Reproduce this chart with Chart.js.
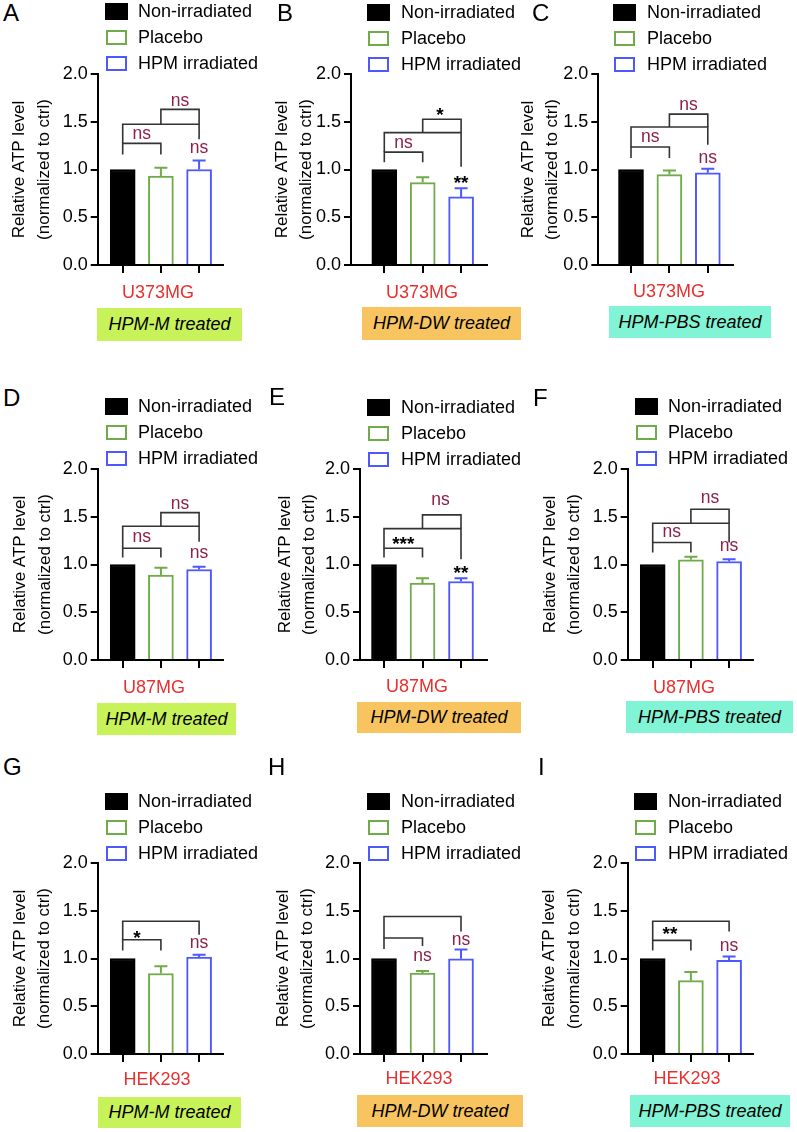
<!DOCTYPE html>
<html>
<head>
<meta charset="utf-8">
<script src="https://cdn.jsdelivr.net/npm/chart.js@4.4.1/dist/chart.umd.min.js"></script>
<style>
  body { margin: 0; background: #fff; font-family: "Liberation Sans", Arial, sans-serif; }
  #fig { position: relative; width: 797px; height: 1132px; overflow: hidden; background: #fff; }
  .abs { position: absolute; white-space: nowrap; color: #000; }
  .box { position: absolute; display: flex; align-items: center; justify-content: center;
         font-style: italic; font-size: 18px; white-space: nowrap; }
</style>
</head>
<body>
<div id="fig"></div>
<script>
// ---- data ----
const groups = ["Non-irradiated", "Placebo", "HPM irradiated"]
const panelIds = ["A", "B", "C", "D", "E", "F", "G", "H", "I"]
const cellLines = ["U373MG", "U373MG", "U373MG", "U87MG", "U87MG", "U87MG", "HEK293", "HEK293", "HEK293"]
const treatments = ["HPM-M treated", "HPM-DW treated", "HPM-PBS treated",
                    "HPM-M treated", "HPM-DW treated", "HPM-PBS treated",
                    "HPM-M treated", "HPM-DW treated", "HPM-PBS treated"]
const yTicks = [0, 0.5, 1, 1.5, 2]
const yTitle = ["Relative ATP level", "(normalized to ctrl)"]

// one value per panel A..I
const ctrlMean    = [1, 1, 1, 1, 1, 1, 1, 1, 1]
const placeboMean = [0.93, 0.863, 0.947, 0.889, 0.805, 1.049, 0.843, 0.848, 0.768]
const placeboErr  = [0.088, 0.056, 0.042, 0.076, 0.052, 0.031, 0.075, 0.021, 0.091]
const hpmMean     = [1.0, 0.713, 0.965, 0.948, 0.822, 1.031, 1.015, 0.997, 0.98]
const hpmErr      = [0.095, 0.09, 0.042, 0.028, 0.035, 0.025, 0.023, 0.096, 0.04]

// brackets: [from, to, height, left leg end, right leg end]
const brackets = [
  [[0, 1, 1.274, 1.158, 1.158], [0, 2, 1.474, 1.274, 1.316], [1, 2, 1.63, 1.474, 1.474]],
  [[0, 1, 1.182, 1.077, 1.077], [0, 2, 1.386, 1.182, 1.028], [1, 2, 1.526, 1.386, 1.386]],
  [[0, 1, 1.235, 1.12, 1.12], [0, 2, 1.445, 1.235, 1.26], [1, 2, 1.58, 1.445, 1.445]],
  [[0, 1, 1.17, 1.073, 1.073], [0, 2, 1.40, 1.17, 1.237], [1, 2, 1.543, 1.40, 1.40]],
  [[0, 1, 1.17, 1.073, 1.073], [0, 2, 1.376, 1.17, 1.056], [1, 2, 1.52, 1.376, 1.376]],
  [[0, 1, 1.23, 1.125, 1.125], [0, 2, 1.432, 1.23, 1.23], [1, 2, 1.578, 1.432, 1.432]],
  [[0, 1, 1.196, 1.083, 1.083], [0, 2, 1.39, 1.196, 1.25]],
  [[0, 1, 1.215, 1.1, 1.13], [0, 2, 1.44, 1.215, 1.284]],
  [[0, 1, 1.19, 1.085, 1.085], [0, 2, 1.39, 1.19, 1.284]],
]
// significance marks: [x, baseline value, text]
const marks = [
  [[0.5, 1.32, "ns"], [1.5, 1.66, "ns"], [2, 1.17, "ns"]],
  [[0.5, 1.23, "ns"], [1.45, 1.505, "*"], [2, 0.80, "**"]],
  [[0.5, 1.283, "ns"], [1.5, 1.623, "ns"], [2, 1.063, "ns"]],
  [[0.5, 1.233, "ns"], [1.5, 1.583, "ns"], [2, 1.07, "ns"]],
  [[0.5, 1.155, "***"], [1.47, 1.618, "ns"], [2, 0.845, "**"]],
  [[0.5, 1.287, "ns"], [1.5, 1.643, "ns"], [2, 1.138, "ns"]],
  [[0.37, 1.155, "*"], [2, 1.107, "ns"]],
  [[1, 0.973, "ns"], [2, 1.143, "ns"]],
  [[0.45, 1.195, "**"], [2, 1.08, "ns"]],
]

// ---- look ----
const FONT = '"Liberation Sans", Arial, sans-serif'
const barFill = ["#000000", "#ffffff", "#ffffff"]
const barLine = ["#000000", "#6fab49", "#4d58ff"]
const nsColor = "#8e1f45"
const boxColors = ["#c8f25a", "#f7c45f", "#80f4d4"]
const PLOT_H = 191
const TOPPAD = 20
const XH = 30

// y axis x, x axis end, first tick x, tick gap, y title x, plot top
const frame = [
  [97.7, 222.7, 122.7, 38.2, 19.5, 74],
  [351, 487, 384.3, 38.4, 282, 74],
  [598.3, 733, 631, 38.4, 528, 74],
  [97.7, 222.7, 122.7, 38.2, 20.5, 469],
  [360, 487, 384, 38.5, 285, 469],
  [627.7, 752.7, 652.7, 38.2, 550, 469],
  [97.7, 222.7, 122.7, 38.2, 20, 863],
  [360, 487, 384, 38.5, 283, 863],
  [627.7, 752.7, 652.7, 38.2, 549.5, 863],
]
// legend: swatch x, text x, first row y
const legendPos = [
  [105, 138, 11], [367, 401, 12], [613, 647, 12],
  [105, 138, 406], [367, 401, 407], [635, 668, 406],
  [105, 138, 801], [367, 401, 801], [634, 668, 801],
]
const letterPos = [[3, 4], [277, 4], [532, 4], [3, 389], [269, 388], [533, 389], [3, 758], [268, 758], [538, 758]]
const cellPos = [[158, 292], [422, 292], [669, 291], [154, 687], [417, 686], [684, 687], [157, 1079], [419, 1078], [687, 1078]]
const boxPos = [
  [97, 308, 242, 341], [362, 307, 521, 340], [609, 306, 771, 338],
  [97, 703, 236, 735], [357, 702, 521, 733], [626, 701, 793, 733],
  [98, 1097, 241, 1128], [357, 1095, 523, 1127], [630, 1095, 790, 1127],
]

Chart.defaults.font.family = FONT
Chart.defaults.color = "#000"

const fig = document.getElementById("fig")

function addDiv(cls, text, css) {
  const d = document.createElement("div")
  d.className = cls
  d.textContent = text
  Object.assign(d.style, css)
  fig.appendChild(d)
  return d
}

// error bars, brackets and stars
const annotate = {
  id: "annotate",
  afterDatasetsDraw(chart) {
    const p = chart.options.plugins.annotate.panel
    const x = chart.scales.x
    const y = chart.scales.y
    const ctx = chart.ctx
    ctx.save()
    const means = [ctrlMean[p], placeboMean[p], hpmMean[p]]
    const errs = [0, placeboErr[p], hpmErr[p]]
    ctx.lineWidth = 2
    for (let i = 0; i < 3; i++) {
      if (!errs[i]) continue
      const px = x.getPixelForValue(i)
      const y0 = y.getPixelForValue(means[i])
      const y1 = y.getPixelForValue(means[i] + errs[i])
      ctx.strokeStyle = barLine[i]
      ctx.beginPath()
      ctx.moveTo(px, y0)
      ctx.lineTo(px, y1)
      ctx.moveTo(px - 6.5, y1)
      ctx.lineTo(px + 6.5, y1)
      ctx.stroke()
    }
    ctx.strokeStyle = "#333"
    ctx.lineWidth = 1.6
    brackets[p].forEach(b => {
      const xl = x.getPixelForValue(b[0])
      const xr = x.getPixelForValue(b[1])
      ctx.beginPath()
      ctx.moveTo(xl, y.getPixelForValue(b[3]))
      ctx.lineTo(xl, y.getPixelForValue(b[2]))
      ctx.lineTo(xr, y.getPixelForValue(b[2]))
      ctx.lineTo(xr, y.getPixelForValue(b[4]))
      ctx.stroke()
    })
    ctx.textAlign = "center"
    ctx.textBaseline = "alphabetic"
    marks[p].forEach(m => {
      const isNs = m[2] === "ns"
      ctx.fillStyle = isNs ? nsColor : "#000"
      ctx.font = (isNs ? "17.5px " : "bold 19px ") + FONT
      ctx.fillText(m[2], x.getPixelForValue(m[0]), y.getPixelForValue(m[1]))
    })
    ctx.restore()
  },
}

function makePanel(p) {
  const [axisX, xEnd, t0, dx, titleX, top] = frame[p]
  const left = Math.floor(axisX) - 95
  const yw = axisX - left
  const w = Math.ceil(yw + (xEnd - axisX) + 12)
  const h = TOPPAD + PLOT_H + XH
  const wrap = document.createElement("div")
  wrap.style.cssText = `position:absolute;left:${left}px;top:${top - TOPPAD}px;width:${w}px;height:${h}px`
  const cv = document.createElement("canvas")
  wrap.appendChild(cv)
  fig.appendChild(wrap)

  const means = [ctrlMean[p], placeboMean[p], hpmMean[p]]
  const titleLH = 17 * 1.45

  new Chart(cv, {
    type: "bar",
    data: {
      datasets: [{
        data: means.map((v, i) => ({ x: i, y: v })),
        backgroundColor: barFill,
        borderColor: barLine,
        borderWidth: 2,
        barThickness: 25,
      }],
    },
    options: {
      responsive: true,
      maintainAspectRatio: false,
      animation: false,
      events: [],
      layout: { padding: { left: 0, top: TOPPAD, right: w - yw - (xEnd - axisX), bottom: 0 } },
      plugins: { legend: { display: false }, tooltip: { enabled: false }, annotate: { panel: p } },
      scales: {
        x: {
          type: "linear",
          offset: false,
          min: -(t0 - axisX) / dx,
          max: 2 + (xEnd - t0 - 2 * dx) / dx,
          afterBuildTicks: s => { s.ticks = [0, 1, 2].map(v => ({ value: v })) },
          afterFit: s => { s.height = XH },
          ticks: { display: false },
          grid: { offset: false, drawOnChartArea: false, drawTicks: true, tickLength: 8, color: "#000", lineWidth: 2 },
          border: { display: true, color: "#000", width: 2 },
        },
        y: {
          min: 0,
          max: 2,
          afterBuildTicks: s => { s.ticks = yTicks.map(v => ({ value: v })) },
          afterFit: s => { s.width = yw },
          ticks: { autoSkip: false, padding: 3, font: { size: 18 }, color: "#000", callback: v => v.toFixed(1) },
          grid: { drawOnChartArea: false, drawTicks: true, tickLength: 7, color: "#000", lineWidth: 2 },
          border: { display: true, color: "#000", width: 2 },
          title: {
            display: true,
            text: yTitle,
            color: "#000",
            font: { size: 17, lineHeight: 1.45 },
            padding: { top: titleX - left - titleLH / 2, bottom: 0 },
          },
        },
      },
    },
    plugins: [annotate],
  })
}

panelIds.forEach((id, p) => {
  makePanel(p)

  // panel letter
  addDiv("abs", id, { left: letterPos[p][0] + "px", top: (letterPos[p][1] - 3) + "px", fontSize: "24px", lineHeight: "24px" })

  // legend
  const [sx, tx, ry] = legendPos[p]
  groups.forEach((g, i) => {
    const cy = ry + i * 26
    const sw = document.createElement("div")
    sw.className = "abs"
    if (i === 0) {
      Object.assign(sw.style, { left: sx + "px", top: (cy - 8.5) + "px", width: "23px", height: "17px", background: "#000" })
    } else {
      Object.assign(sw.style, { left: (sx + 1) + "px", top: (cy - 7.5) + "px", width: "21px", height: "15px",
        border: "2px solid " + barLine[i], boxSizing: "border-box", background: "#fff" })
    }
    fig.appendChild(sw)
    addDiv("abs", g, { left: tx + "px", top: (cy - 9) + "px", fontSize: "18px", lineHeight: "18px" })
  })

  // cell line
  const [cx, cy] = cellPos[p]
  addDiv("abs", cellLines[p], { left: (cx - 100) + "px", width: "200px", textAlign: "center",
    top: (cy - 9) + "px", fontSize: "18px", lineHeight: "18px", color: "#e8312f" })

  // treatment box
  const [bl, bt, br, bb] = boxPos[p]
  addDiv("box", treatments[p], { left: bl + "px", top: bt + "px", width: (br - bl) + "px", height: (bb - bt) + "px",
    background: boxColors[p % 3] })
})
</script>
</body>
</html>
